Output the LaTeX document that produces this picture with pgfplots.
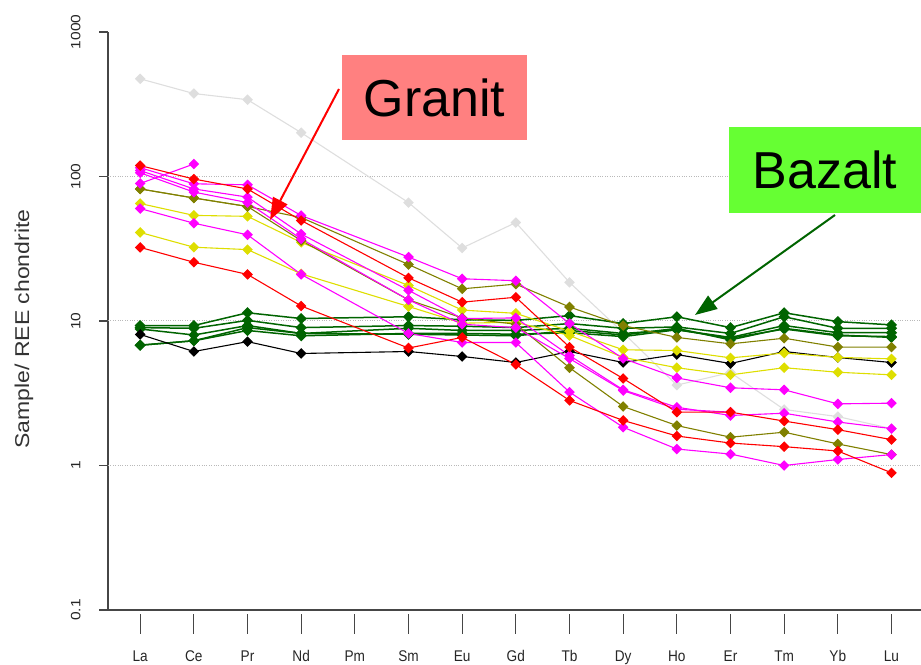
\documentclass[border=0pt]{standalone}
\usepackage{fontspec}
\setmainfont{Liberation Sans}
\newfontfamily\xfont[FakeStretch=0.88]{Liberation Sans}
\newfontfamily\yfont[FakeStretch=1.15]{Liberation Sans}
\usepackage{pgfplots}
\pgfplotsset{compat=1.18}
\usetikzlibrary{arrows.meta}
\definecolor{cred}{RGB}{255,0,0}
\definecolor{cmag}{RGB}{255,0,255}
\definecolor{colive}{RGB}{128,128,0}
\definecolor{cyel}{RGB}{222,222,0}
\definecolor{cgreen}{RGB}{0,100,0}
\definecolor{cgray}{RGB}{222,222,222}
\definecolor{axgray}{RGB}{70,70,70}
\definecolor{gridgray}{RGB}{185,185,185}
\definecolor{granitbox}{RGB}{255,128,128}
\definecolor{bazaltbox}{RGB}{102,255,51}
\begin{document}
\begin{tikzpicture}
\useasboundingbox (-108pt,-54pt) rectangle (813pt,610pt);
\begin{axis}[
  scale only axis, width=813pt, height=578pt,
  at={(0pt,0pt)}, anchor=south west,
  ymode=log, ymin=0.1, ymax=1000,
  xmin=-0.6, xmax=14.55,
  axis lines=left,
  axis line style={-, line width=1.2pt, color=axgray},
  xtick={0,...,14},
  xticklabels={La,Ce,Pr,Nd,Pm,Sm,Eu,Gd,Tb,Dy,Ho,Er,Tm,Yb,Lu},
  ytick={0.1,1,10,100,1000},
  yticklabels={0.1,1,10,100,1000},
  yminorticks=false,
  tick align=outside,
  major tick length=20pt,
  xtick style={line width=1.1pt, color=axgray, yshift=-4pt},
  ytick style={draw=none},
  /pgf/number format/assume math mode=true,
  xticklabel style={font=\xfont\fontsize{15.5}{16}\selectfont, text=black!85, anchor=north, yshift=-17pt},
  yticklabel shift=4pt,
  yticklabel style={font=\yfont\fontsize{13.5}{14}\selectfont, text=black!85, rotate=90, anchor=south},
  ylabel={Sample/ REE chondrite},
  ylabel style={font=\yfont\fontsize{20}{22}\selectfont, text=black!80, at={(axis description cs:-0.1033,0.486)}, rotate=0, anchor=center},
  extra y ticks={1,10,100},
  extra y tick labels={},
  extra y tick style={grid=major, major grid style={dotted, line width=1pt, color=gridgray}},
  every axis plot/.append style={line width=1.1pt, mark=square*, mark size=3.2pt, mark options={rotate=45, solid}},
  clip=false,
]
% light gray
\addplot[color=cgray] coordinates {(0,474)(1,375)(2,340)(3,201)(5,66)(6,32)(7,48)(8,18.5)(9,8.3)(10,3.6)(11,4.4)(12,2.44)(13,2.18)(14,1.8)};
% greens (basalts)
\addplot[color=cgreen, line width=1.5pt] coordinates {(0,9.3)(1,9.3)(2,11.4)(3,10.4)(5,10.7)(6,10.2)(7,10.1)(8,10.9)(9,9.6)(10,10.7)(11,9.0)(12,11.4)(13,9.9)(14,9.4)};
\addplot[color=cgreen, line width=1.5pt] coordinates {(0,9.0)(1,8.9)(2,10.1)(3,9.0)(5,9.3)(6,9.2)(7,9.0)(8,9.6)(9,8.9)(10,9.1)(11,8.2)(12,10.7)(13,8.9)(14,8.9)};
\addplot[color=cgreen, line width=1.5pt] coordinates {(0,8.8)(1,8.0)(2,9.3)(3,8.2)(5,8.9)(6,8.6)(7,8.6)(8,8.9)(9,8.2)(10,8.7)(11,7.7)(12,9.3)(13,8.3)(14,8.3)};
\addplot[color=cgreen, line width=1.5pt] coordinates {(0,6.8)(1,7.3)(2,9.0)(3,8.2)(5,8.1)(6,8.0)(7,7.9)(8,8.6)(9,8.0)(10,8.9)(11,7.4)(12,8.9)(13,8.0)(14,7.7)};
\addplot[color=cgreen, line width=1.5pt] coordinates {(0,6.8)(1,7.3)(2,8.6)(3,7.9)(5,8.2)(6,8.2)(7,8.1)(8,8.3)(9,7.8)(10,8.7)(11,7.6)(12,8.8)(13,7.9)(14,7.8)};
% black
\addplot[color=black] coordinates {(0,8.07)(1,6.15)(2,7.2)(3,5.96)(5,6.15)(6,5.68)(7,5.16)(8,6.15)(9,5.16)(10,5.86)(11,5.08)(12,6.15)(13,5.59)(14,5.16)};
% yellow
\addplot[color=cyel] coordinates {(0,65)(1,53.8)(2,53)(3,35)(5,17.6)(6,11.9)(7,11.3)(8,8.5)(9,6.32)(10,6.25)(11,5.56)(12,6.0)(13,5.6)(14,5.47)};
\addplot[color=cyel] coordinates {(0,41)(1,32.4)(2,31.2)(3,21.2)(5,12.6)(6,9.66)(7,9.8)(8,7.94)(9,5.6)(10,4.75)(11,4.24)(12,4.75)(13,4.42)(14,4.24)};
% olive
\addplot[color=colive] coordinates {(0,82)(1,71)(2,62)(3,52)(5,24.6)(6,16.7)(7,18)(8,12.5)(9,9.3)(10,7.7)(11,6.95)(12,7.6)(13,6.6)(14,6.6)};
\addplot[color=colive] coordinates {(0,82)(1,71)(2,62)(3,36)(5,14.0)(6,10.5)(7,9.5)(8,4.75)(9,2.56)(10,1.89)(11,1.57)(12,1.70)(13,1.41)(14,1.19)};
% magenta
\addplot[color=cmag] coordinates {(0,115)(1,89)(2,87.6)(3,53.7)(5,27.7)(6,19.6)(7,19)(8,9.6)(9,5.5)(10,4.04)(11,3.45)(12,3.34)(13,2.67)(14,2.70)};
\addplot[color=cmag] coordinates {(0,110)(1,82)(2,72)(3,40)(5,16.3)(6,10.4)(7,10.5)(8,5.77)(9,3.34)(10,2.53)(11,2.22)(12,2.3)(13,2.0)(14,1.8)};
\addplot[color=cmag] coordinates {(0,106)(1,78)(2,66)(3,37)(5,14)(6,9.5)(7,9.0)(8,5.5)(9,3.3)(10,2.45)(11,2.34)};
\addplot[color=cmag] coordinates {(0,60)(1,47.5)(2,39.5)(3,21)(5,8.2)(6,7.1)(7,7.1)(8,3.22)(9,1.84)(10,1.30)(11,1.20)(12,1.0)(13,1.10)(14,1.19)};
\addplot[color=cmag] coordinates {(0,89.5)(1,122)};
% red
\addplot[color=cred] coordinates {(0,119)(1,96)(2,82)(3,49.6)(5,19.9)(6,13.5)(7,14.6)(8,6.6)(9,4.0)(10,2.34)(11,2.34)(12,2.03)(13,1.77)(14,1.51)};
\addplot[color=cred] coordinates {(0,32.3)(1,25.5)(2,21)(3,12.7)(5,6.5)(6,7.7)(7,5.0)(8,2.82)(9,2.05)(10,1.60)(11,1.43)(12,1.35)(13,1.26)(14,0.89)};
% y ticks (short)
\draw[axgray, line width=1.2pt] (axis cs:-0.6,0.1) -- ++(-9pt,0pt);
\draw[axgray, line width=1.2pt] (axis cs:-0.6,1) -- ++(-9pt,0pt);
\draw[axgray, line width=1.2pt] (axis cs:-0.6,10) -- ++(-9pt,0pt);
\draw[axgray, line width=1.2pt] (axis cs:-0.6,100) -- ++(-9pt,0pt);
\draw[axgray, line width=1.2pt] (axis cs:-0.6,1000) -- ++(-9pt,0pt);
\end{axis}
% annotations
\fill[granitbox] (234pt,470pt) rectangle (419pt,555pt);
\node[font=\fontsize{52}{56}\selectfont, anchor=center] at (326.5pt,512.5pt) {Granit};
\draw[cred, line width=2pt, -{Triangle[length=22pt,width=16pt]}] (231pt,521pt) -- (162pt,390pt);
\fill[bazaltbox] (621pt,397pt) rectangle (813pt,483pt);
\node[font=\fontsize{52}{56}\selectfont, anchor=center] at (717pt,440pt) {Bazalt};
\draw[cgreen, line width=2pt, -{Triangle[length=22pt,width=16pt]}] (727pt,395pt) -- (587pt,295pt);
\end{tikzpicture}
\end{document}
